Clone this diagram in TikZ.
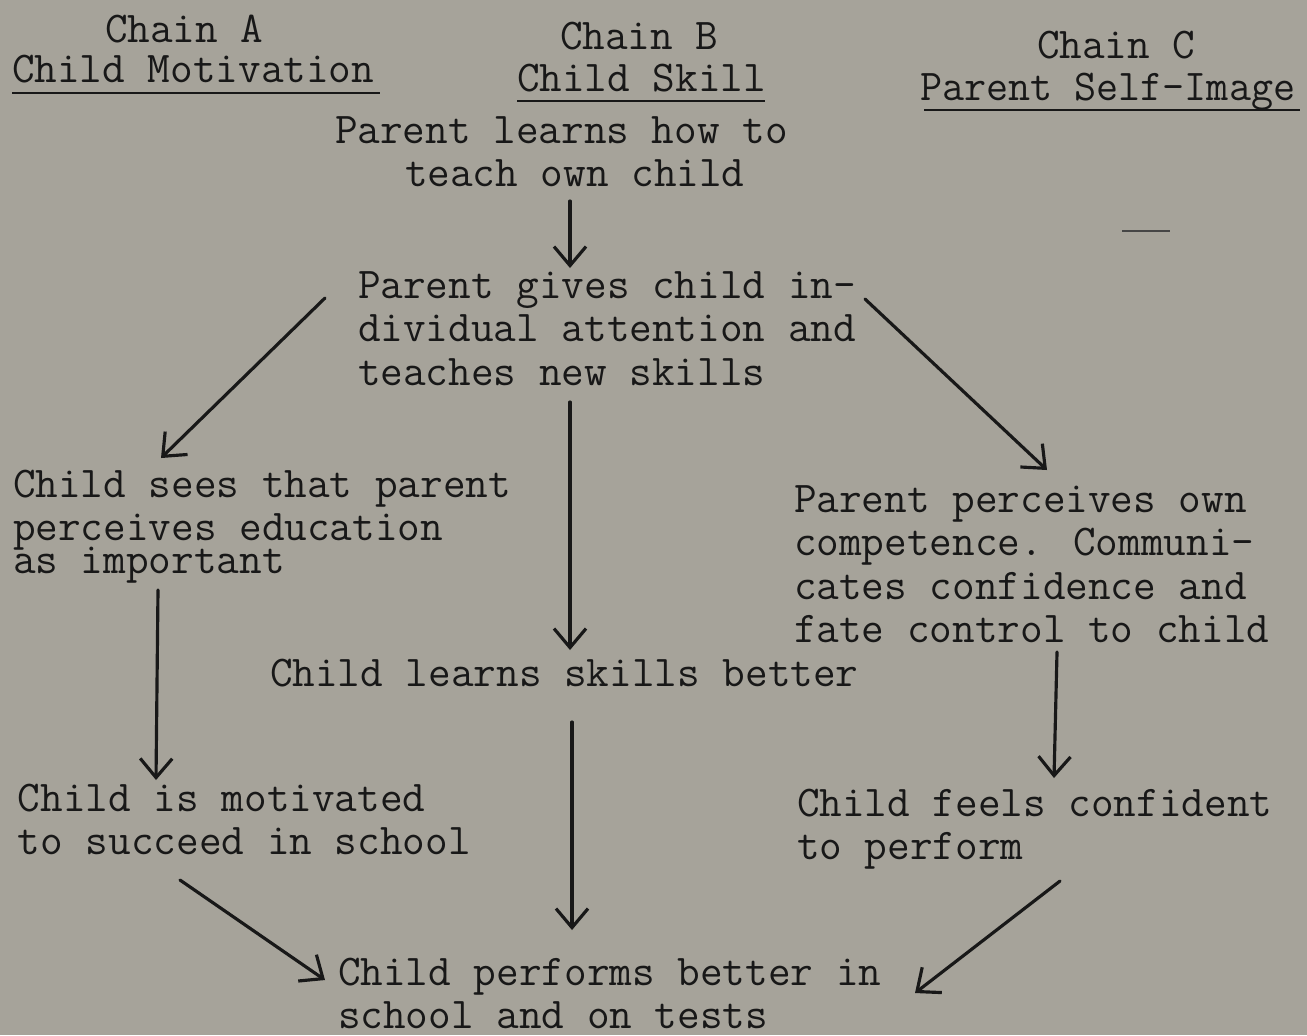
\documentclass[tikz,border=0pt]{standalone}
\usepackage{fontspec}
\usetikzlibrary{arrows.meta}
\definecolor{paper}{RGB}{166,163,154}
\definecolor{ink}{RGB}{24,24,24}
\newcommand{\stack}[1]{\vtop{\baselineskip=12.4pt\halign{##\hfil\cr#1\crcr}}}
\begin{document}
\begin{tikzpicture}[x=0.01cm,y=-0.01cm,
  txt/.style={anchor=base west,inner sep=0pt,outer sep=0pt,text=ink,
    font=\fontsize{12.5}{12.4}\ttfamily\addfontfeatures{FakeBold=1.2}},
  flow/.style={draw=ink,line width=0.9pt,line cap=round,
    -{Straight Barb[length=1.9mm,width=3.2mm,line width=0.9pt]}},
  rule/.style={draw=ink,line width=0.6pt}]
  \fill[paper] (0,0) rectangle (1307,1035);
  \useasboundingbox (0,0) rectangle (1307,1035);

  % chain headings
  \node[txt] (ha) at (105,42) {Chain A};
  \node[txt] (hat) at (12,82) {Child Motivation};
  \node[txt] (hb) at (560,49) {Chain B};
  \node[txt] (hbt) at (517,91) {Child Skill};
  \node[txt] (hc) at (1037,58) {Chain C};
  \node[txt] (hct) at (920,100) {\scalebox{0.975}[1]{Parent Self-Image}};
  \draw[rule] (12,93) -- (380,93);
  \draw[rule] (517,101) -- (765,101);
  \draw[rule] (924,110) -- (1300,110);

  % statements
  \node[txt] (learn) at (335,143) {\stack{Parent learns how to\cr\hspace{0.7cm}teach own child}};
  \node[txt] (gives) at (358,298) {\stack{Parent gives child in-\cr dividual attention and\cr teaches new skills}};
  \node[txt] (sees) at (13,497) {\stack{Child sees that parent\cr perceives education\cr\noalign{\vskip-3pt}as important}};
  \node[txt] (perc) at (794,512) {\stack{Parent perceives own\cr competence.  Communi-\cr cates confidence and\cr fate control to child}};
  \node[txt] (skill) at (270,686) {Child learns skills better};
  \node[txt] (motiv) at (18,811) {\stack{Child is motivated\cr to succeed in school}};
  \node[txt] (conf) at (797,816) {\stack{Child feels confident\cr to perform}};
  \node[txt] (perf) at (338,985) {\stack{Child performs better in\cr school and on tests}};

  % connector ends
  \coordinate (a1) at (570,201);  \coordinate (a2) at (570,268);
  \coordinate (l1) at (325,298);  \coordinate (l2) at (161,458);
  \coordinate (r1) at (865,299);  \coordinate (r2) at (1047,470);
  \coordinate (m1) at (570,402);  \coordinate (m2) at (570,650);
  \coordinate (v1) at (158,590);  \coordinate (v2) at (156,780);
  \coordinate (w1) at (1057,652); \coordinate (w2) at (1054,778);
  \coordinate (n1) at (572,722);  \coordinate (n2) at (572,930);
  \coordinate (d1) at (180,880);  \coordinate (d2) at (325,980);
  \coordinate (e1) at (1060,881); \coordinate (e2) at (915,993);
  \coordinate (s1) at (1122,231); \coordinate (s2) at (1170,231);

  \draw[flow] (a1) -- (a2);
  \draw[flow] (l1) -- (l2);
  \draw[flow] (r1) -- (r2);
  \draw[flow] (m1) -- (m2);
  \draw[flow] (v1) -- (v2);
  \draw[flow] (w1) -- (w2);
  \draw[flow] (n1) -- (n2);
  \draw[flow] (d1) -- (d2);
  \draw[flow] (e1) -- (e2);
  \draw[draw=ink!80,line width=0.6pt] (s1) -- (s2);
\end{tikzpicture}
\end{document}
